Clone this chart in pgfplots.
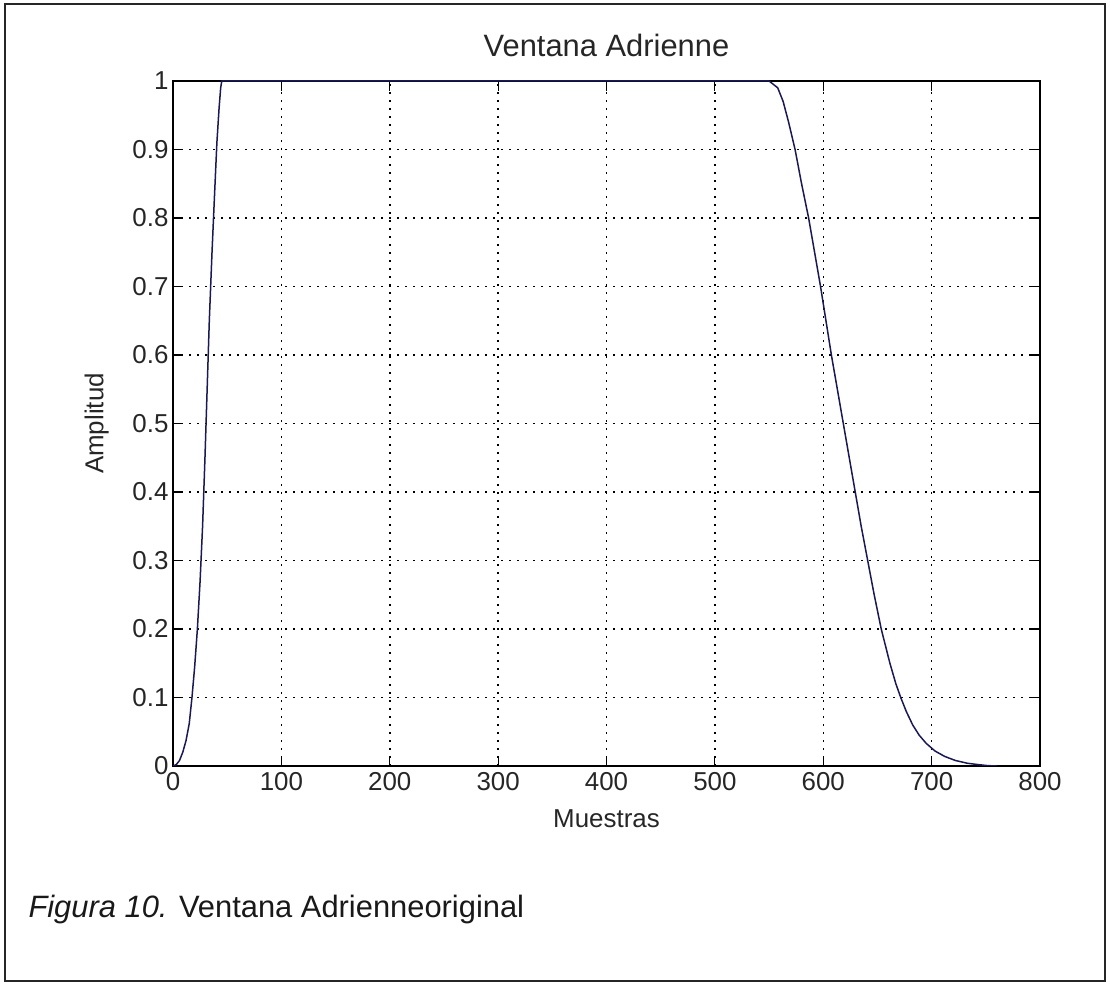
\documentclass[border=0pt]{standalone}
\usepackage{pgfplots}
\pgfplotsset{compat=1.18}
\usepackage{fontspec}
\setmainfont{Liberation Sans}
\definecolor{curve}{RGB}{25,25,85}
\begin{document}
\begin{tikzpicture}[x=1bp,y=1bp]
\useasboundingbox (0,0) rectangle (1110,985);
\draw[line width=2bp,black!85] (5,4) rectangle (1105,981);
\begin{axis}[
  at={(173bp,219bp)}, anchor=south west,
  width=867bp, height=685bp, scale only axis,
  xmin=0, xmax=800, ymin=0, ymax=1,
  xtick={0,100,200,300,400,500,600,700,800},
  ytick={0,0.1,0.2,0.3,0.4,0.5,0.6,0.7,0.8,0.9,1},
  yticklabels={0,0.1,0.2,0.3,0.4,0.5,0.6,0.7,0.8,0.9,1},
  /pgf/number format/assume math mode=true,
  tick align=inside, major tick length=10bp,
  xtick pos=both, ytick pos=both,
  tick style={black, line width=1.2bp},
  axis line style={black, line width=1.6bp},
  grid=major,
  major grid style={black, line width=1.5bp, dash pattern=on 1.5bp off 6.5bp},
  ticklabel style={font=\fontsize{26}{30}\selectfont, text=black!85},
  xticklabel style={yshift=-3bp},
  yticklabel style={xshift=-1bp},
  title={Ventana Adrienne},
  title style={font=\fontsize{31}{34}\selectfont, text=black!85, at={(0.5,1)}, anchor=base, yshift=19bp},
  xlabel={Muestras},
  xlabel style={font=\fontsize{26}{30}\selectfont, text=black!85, at={(0.5,0)}, anchor=base, yshift=-62bp},
  ylabel={Amplitud},
  ylabel style={font=\fontsize{26}{30}\selectfont, text=black!85, at={(axis description cs:-0.088,0.5)}, anchor=center},
]
\addplot[curve, line width=1.5bp, no markers, line join=round] coordinates {
(0,0) (3,0.002) (6,0.008) (9,0.02) (12,0.037) (15,0.062) (17.5,0.1)
(20,0.145) (22.5,0.2) (25,0.27) (27.3,0.35) (29.5,0.45) (31.5,0.55) (33.5,0.65)
(36,0.75) (38.5,0.84) (40.5,0.91) (42.5,0.96) (44,0.99) (45,1)
(550,1) (558,0.99) (563,0.97) (568,0.94) (574,0.9) (580,0.85) (586.5,0.8)
(592,0.75) (597.5,0.7) (602.5,0.65) (607.5,0.6) (613,0.55) (618.5,0.5) (624,0.45)
(629.5,0.4) (635,0.35) (641,0.3) (647,0.25) (653.5,0.2) (661.5,0.15) (667,0.12)
(671.5,0.1) (676.5,0.08) (682.5,0.06) (688.5,0.045) (695,0.033) (703,0.022)
(712,0.014) (722,0.008) (733,0.004) (743,0.002) (752,0.0005) (760,0)
};
\end{axis}
\node[anchor=base west, font=\fontsize{31}{34}\selectfont, text=black!90] at (25,67)
  {\itshape Figura 10.\upshape{} Ventana Adrienneoriginal};
\end{tikzpicture}
\end{document}
